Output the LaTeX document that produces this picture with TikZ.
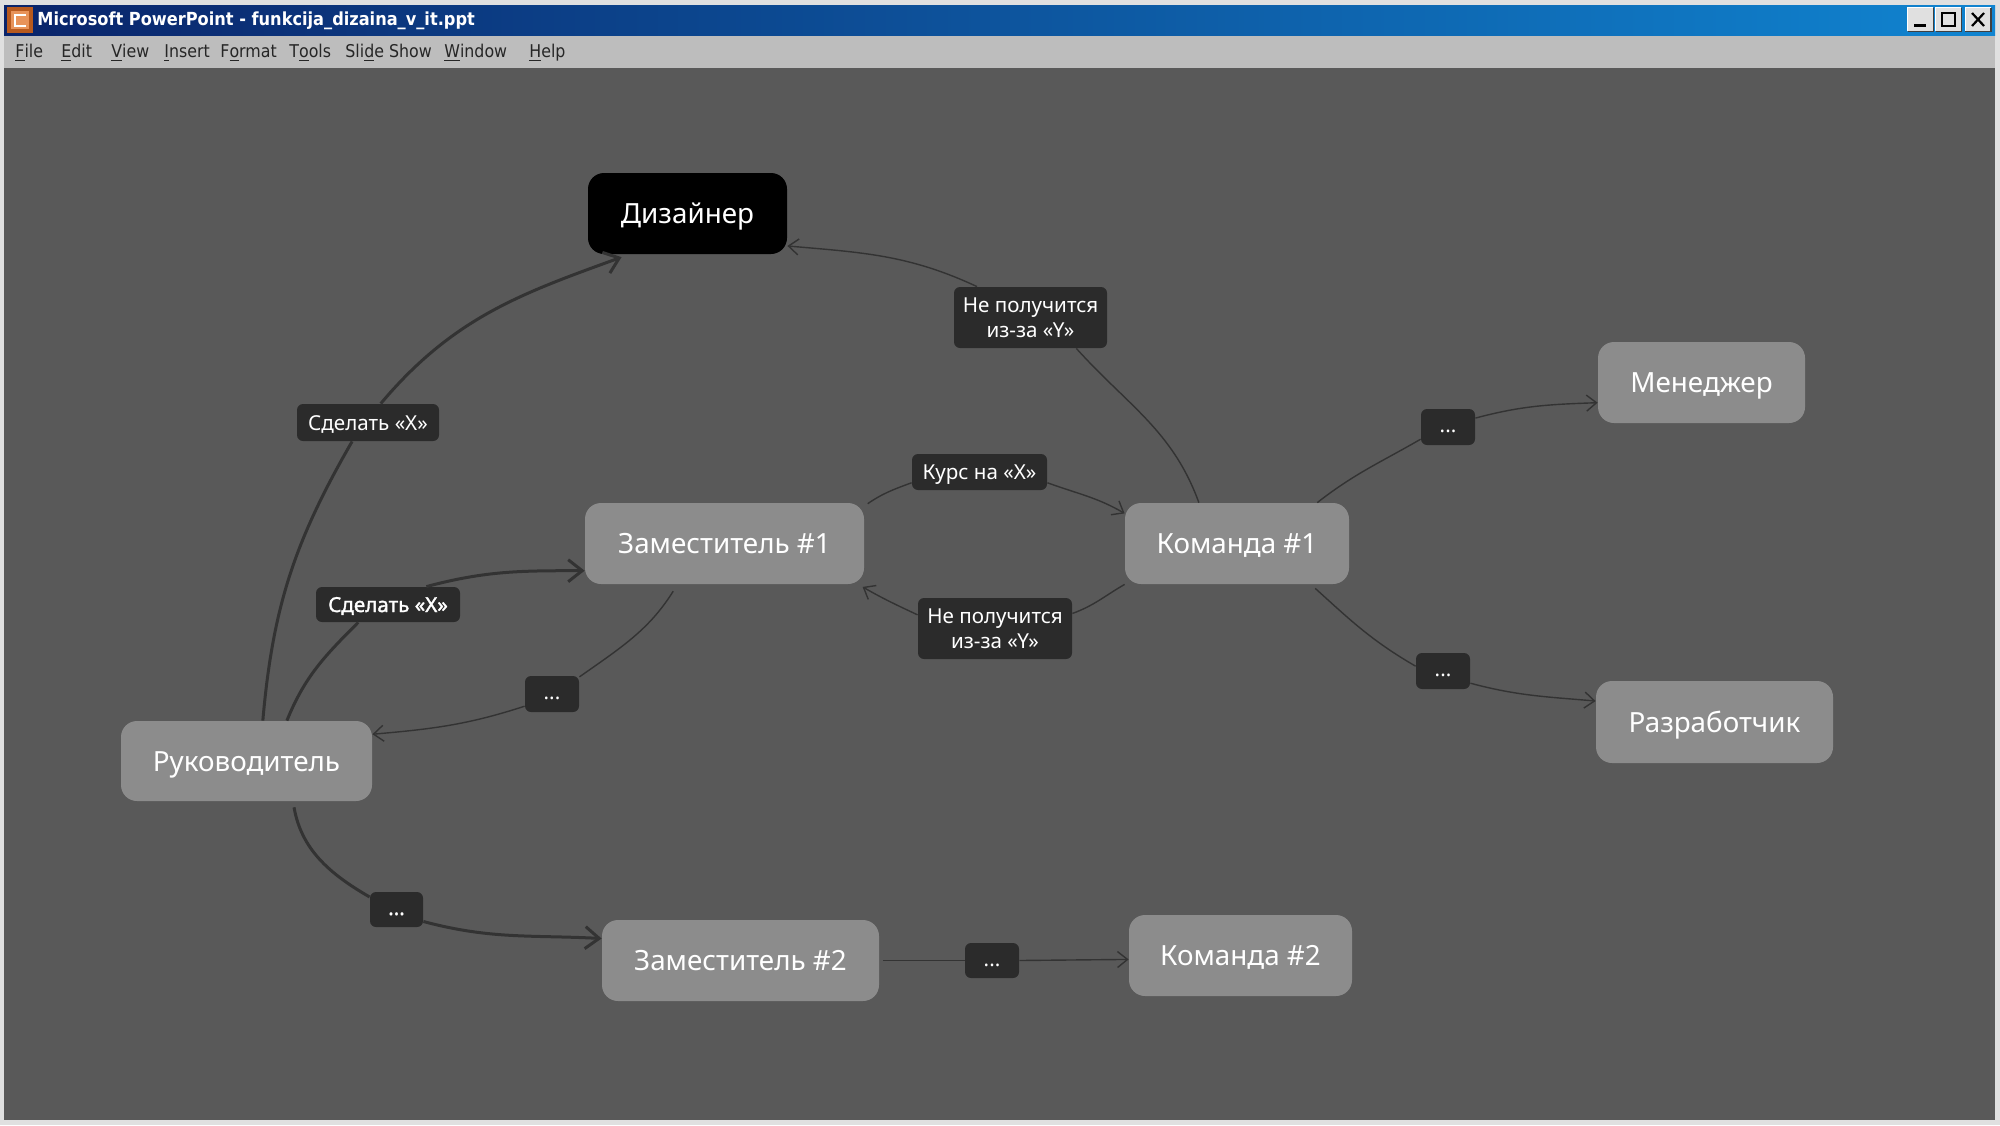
\documentclass[tikz,border=0pt]{standalone}
\usepackage{fontspec}
\setmainfont{Noto Sans}
\newfontfamily\winfont{DejaVu Sans Condensed}
\newfontfamily\heavyfont[FakeBold=1.6]{Noto Sans}
\usetikzlibrary{arrows.meta}

\colorlet{slide_fill}{black!65}
\colorlet{box_fill}{black!45}
\colorlet{label_fill}{black!83}
\colorlet{line_color}{black!80}
\colorlet{menu_fill}{black!26}
\colorlet{frame_fill}{black!12}
\definecolor{title_left}{HTML}{0A246A}
\definecolor{title_right}{HTML}{1084D0}
\definecolor{icon_fill}{HTML}{B85A1E}
\definecolor{icon_inner}{HTML}{E8935A}

\tikzset{
  x=0.5pt, y=-0.5pt,
  box/.style={fill=box_fill,rounded corners=8pt,text=white,font=\fontsize{13.9}{17}\selectfont,inner sep=0pt,text depth=0pt,text height=10pt},
  tag/.style={fill=label_fill,rounded corners=3pt,text=white,align=center,font=\fontsize{10.3}{12.5}\selectfont,inner sep=0pt},
  tagline/.style={tag,text height=7.5pt,text depth=0pt},
  tagdots/.style={tag,text height=5.5pt,text depth=0pt},
  tagheavy/.style={font=\heavyfont\fontsize{10.3}{12.5}\selectfont},
  thin_link/.style={line_color,line width=0.7pt},
  thick_link/.style={line_color,line width=1.5pt},
  thin_tip/.style={-{Straight Barb[length=5pt,width=8pt]}},
  thick_tip/.style={-{Straight Barb[length=7pt,width=11pt]}},
  winbutton/.style={fill=frame_fill,inner sep=0pt,minimum width=12.5pt,minimum height=11.5pt},
  menuitem/.style={anchor=west,inner sep=0pt,font=\winfont\fontsize{8.8}{10}\selectfont,text=black!85},
}

\begin{document}
\begin{tikzpicture}
\useasboundingbox (0,0) rectangle (2000,1125);

% window
\fill[frame_fill] (0,0) rectangle (2000,1125);
\fill[menu_fill] (4,35) rectangle (1995,68);
\fill[slide_fill] (4,68) rectangle (1995,1120);
\shade[left color=title_left,right color=title_right] (4,5) rectangle (1995,35);

\node[fill=icon_fill,inner sep=0pt,minimum width=13pt,minimum height=13pt] (icon) at (20,20) {};
\node[fill=icon_inner,inner sep=0pt,minimum width=9pt,minimum height=9pt] (iconpage) at (icon.center) {};
\draw[white,line width=1.3pt] ([xshift=3pt,yshift=2.5pt]icon.center) -- ([xshift=-2.5pt,yshift=2.5pt]icon.center) -- ([xshift=-2.5pt,yshift=-3pt]icon.center) -- ([xshift=3pt,yshift=-3pt]icon.center);
\node[anchor=west,inner sep=0pt,text=white,font=\winfont\bfseries\fontsize{9}{10}\selectfont] (title) at (37,21) {Microsoft PowerPoint - funkcija\_dizaina\_v\_it.ppt};

\foreach \x/\m/\t in {15/file/\underline{F}ile,61/edit/\underline{E}dit,111/view/\underline{V}iew,164/insert/\underline{I}nsert,220/format/F\underline{o}rmat,289/tools/T\underline{o}ols,345/slide/Sli\underline{d}e Show,444/window/\underline{W}indow,529/help/\underline{H}elp}{
\node[menuitem] (menu\m) at (\x,53) {\t};
}

\node[winbutton] (btnmin) at (1920.5,19.5) {};
\node[winbutton] (btnmax) at (1948.5,19.5) {};
\node[winbutton] (btnclose) at (1978,19.5) {};
\foreach \b in {btnmin,btnmax,btnclose}{
\draw[white,line width=0.5pt] (\b.south west) -- (\b.north west) -- (\b.north east);
\draw[black!75,line width=0.8pt] (\b.south west) -- (\b.south east) -- (\b.north east);
}
\fill (1914,24) rectangle (1926,27);
\draw[line width=1pt] (1942,13) rectangle (1955,26);
\draw[line width=1.1pt] (1972,13) -- (1984,26) (1984,13) -- (1972,26);

% boxes
\node[box,fill=black,minimum width=99.5pt,minimum height=40.5pt] (designer) at (687.5,213.5) {Дизайнер};
\node[box,minimum width=125.5pt,minimum height=40pt] (boss) at (246.5,761) {Руководитель};
\node[box,minimum width=139.5pt,minimum height=40.5pt] (deputyone) at (724.5,543.5) {Заместитель \#1};
\node[box,minimum width=138.5pt,minimum height=40.5pt] (deputytwo) at (740.5,960.5) {Заместитель \#2};
\node[box,minimum width=112pt,minimum height=40.5pt] (teamone) at (1237,543.5) {Команда \#1};
\node[box,minimum width=111.5pt,minimum height=40.5pt] (teamtwo) at (1240.5,955.5) {Команда \#2};
\node[box,minimum width=103.5pt,minimum height=40.5pt] (manager) at (1701.5,382.5) {Менеджер};
\node[box,minimum width=118.5pt,minimum height=41pt] (developer) at (1714.5,722) {Разработчик};

% labels
\node[tagline,minimum width=71pt,minimum height=18.5pt] (taskdesigner) at (368,422.5) {Сделать «X»};
\node[tagline,tagheavy,minimum width=72pt,minimum height=17.5pt] (taskdeputy) at (388,604.5) {Сделать «X»};
\node[tagdots,minimum width=27pt,minimum height=18pt] (dotsback) at (552,694) {...};
\node[tagdots,tagheavy,minimum width=26.5pt,minimum height=17.5pt] (dotsdown) at (396.5,909.5) {...};
\node[tagdots,minimum width=27pt,minimum height=17.5pt] (dotstwo) at (992,960.5) {...};
\node[tag,minimum width=76.5pt,minimum height=30.5pt] (nodesigner) at (1030.5,317.5) {Не получится\\из-за «Y»};
\node[tagline,minimum width=67.5pt,minimum height=18pt] (course) at (979.5,472) {Курс на «X»};
\node[tag,minimum width=77pt,minimum height=30.5pt] (nodeputy) at (995,628.5) {Не получится\\из-за «Y»};
\node[tagdots,minimum width=27pt,minimum height=18pt] (dotsmanager) at (1448,427) {...};
\node[tagdots,minimum width=27pt,minimum height=18pt] (dotsdev) at (1443,671) {...};

% thick connectors
\draw[thick_link] (boss.68) to[out=85,in=240] (taskdesigner.230);
\draw[thick_link,thick_tip,shorten >=4pt] (taskdesigner.56) to[out=50,in=200] (designer.215);
\draw[thick_link] (boss.45) to[out=68,in=225] (taskdeputy.211);
\draw[thick_link,thick_tip] (taskdeputy.25) to[out=15,in=180] (deputyone.191);
\draw[thick_link,shorten <=3pt] (boss.-41) to[out=-80,in=150] (dotsdown.155);
\draw[thick_link,thick_tip] (dotsdown.-24) to[out=-15,in=177] (deputytwo.171.6);

% thin connectors
\draw[thin_link,shorten <=4pt] (deputyone.221) to[out=238,in=35] (dotsback.32);
\draw[thin_link,thin_tip] (dotsback.204) to[out=198,in=5] (boss.12);
\draw[thin_link,shorten <=2pt] (deputytwo.east) -- (dotstwo.west);
\draw[thin_link,thin_tip] (dotstwo.east) -- (teamtwo.182);
\draw[thin_link,shorten <=2pt] (deputyone.15) to[out=35,in=200] (course.189);
\draw[thin_link,thin_tip] (course.-9) to[out=-20,in=150] (teamone.165);
\draw[thin_link] (teamone.200) to[out=210,in=20] (nodeputy.11);
\draw[thin_link,thin_tip,shorten >=2.5pt] (nodeputy.170) to[out=155,in=-30] (deputyone.-17);
\draw[thin_link] (teamone.133) to[out=110,in=312] (nodesigner.-34);
\draw[thin_link,thin_tip] (nodesigner.150) to[out=155,in=-5] (designer.-18);
\draw[thin_link] (teamone.27) to[out=38,in=210] (dotsmanager.204);
\draw[thin_link,thin_tip] (dotsmanager.18) to[out=15,in=182] (manager.191);
\draw[thin_link,shorten <=3pt] (teamone.-29) to[out=-42,in=150] (dotsdev.170);
\draw[thin_link,thin_tip] (dotsdev.-24) to[out=-15,in=175] (developer.170);

\end{tikzpicture}
\end{document}
